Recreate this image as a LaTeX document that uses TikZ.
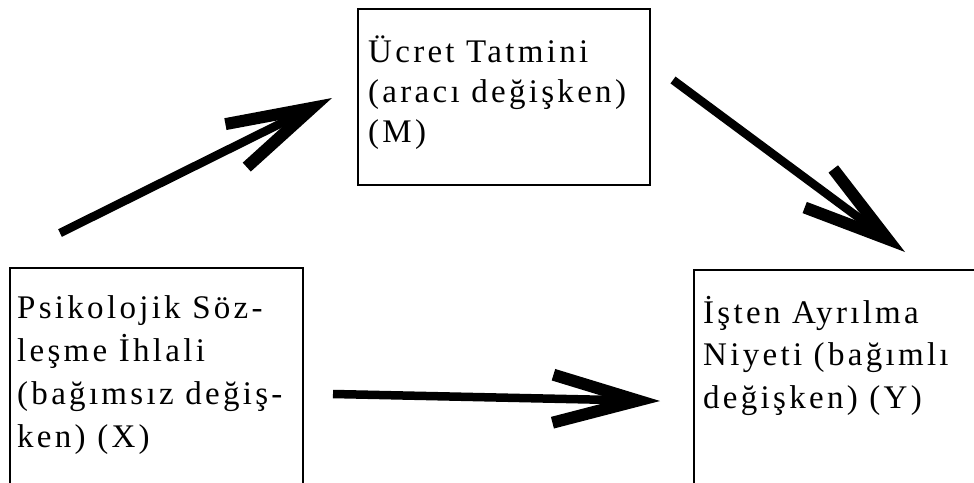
\documentclass[tikz,border=0pt]{standalone}
\usepackage{fontspec}
\setmainfont{Liberation Serif}[LetterSpace=10]
\usetikzlibrary{arrows.meta}
\begin{document}
\begin{tikzpicture}[x=1pt,y=-1pt,
  box/.style={draw, line width=2pt, inner sep=0pt, anchor=north west},
  lbl/.style={inner sep=0pt, anchor=base west, align=left},
  arr/.style={line width=8.5pt, -{Straight Barb[length=85pt,width=48pt,line width=12pt,sharp]}}]
\useasboundingbox (0,0) rectangle (974,482);
\fill[white] (0,0) rectangle (974,482);
% boxes
\node[box, minimum width=292pt, minimum height=176pt] (M) at (357,8) {};
\node[box, minimum width=293pt, minimum height=260pt] (X) at (9,267) {};
\node[box, minimum width=320pt, minimum height=260pt] (Y) at (693,269) {};
% texts (anchor = baseline of last line)
\node[lbl, font=\fontsize{33}{40}\selectfont] (Mt) at (368,142) {Ücret Tatmini\\(aracı değişken)\\(M)};
\node[lbl, font=\fontsize{33}{43}\selectfont] (Xt) at (17,447) {Psikolojik Söz-\\leşme İhlali\\(bağımsız değiş-\\ken) (X)};
\node[lbl, font=\fontsize{33}{42.5}\selectfont] (Yt) at (703,408) {İşten Ayrılma\\Niyeti (bağımlı\\değişken) (Y)};
% connectors
\coordinate (a1s) at (60,233);
\coordinate (a1e) at (332,98);
\coordinate (a2s) at (673,80);
\coordinate (a2e) at (905,252);
\coordinate (a3s) at (333,394);
\coordinate (a3e) at (660,401);
\draw[arr] (a1s) -- (a1e);
\draw[arr] (a2s) -- (a2e);
\draw[arr] (a3s) -- (a3e);
\end{tikzpicture}
\end{document}
